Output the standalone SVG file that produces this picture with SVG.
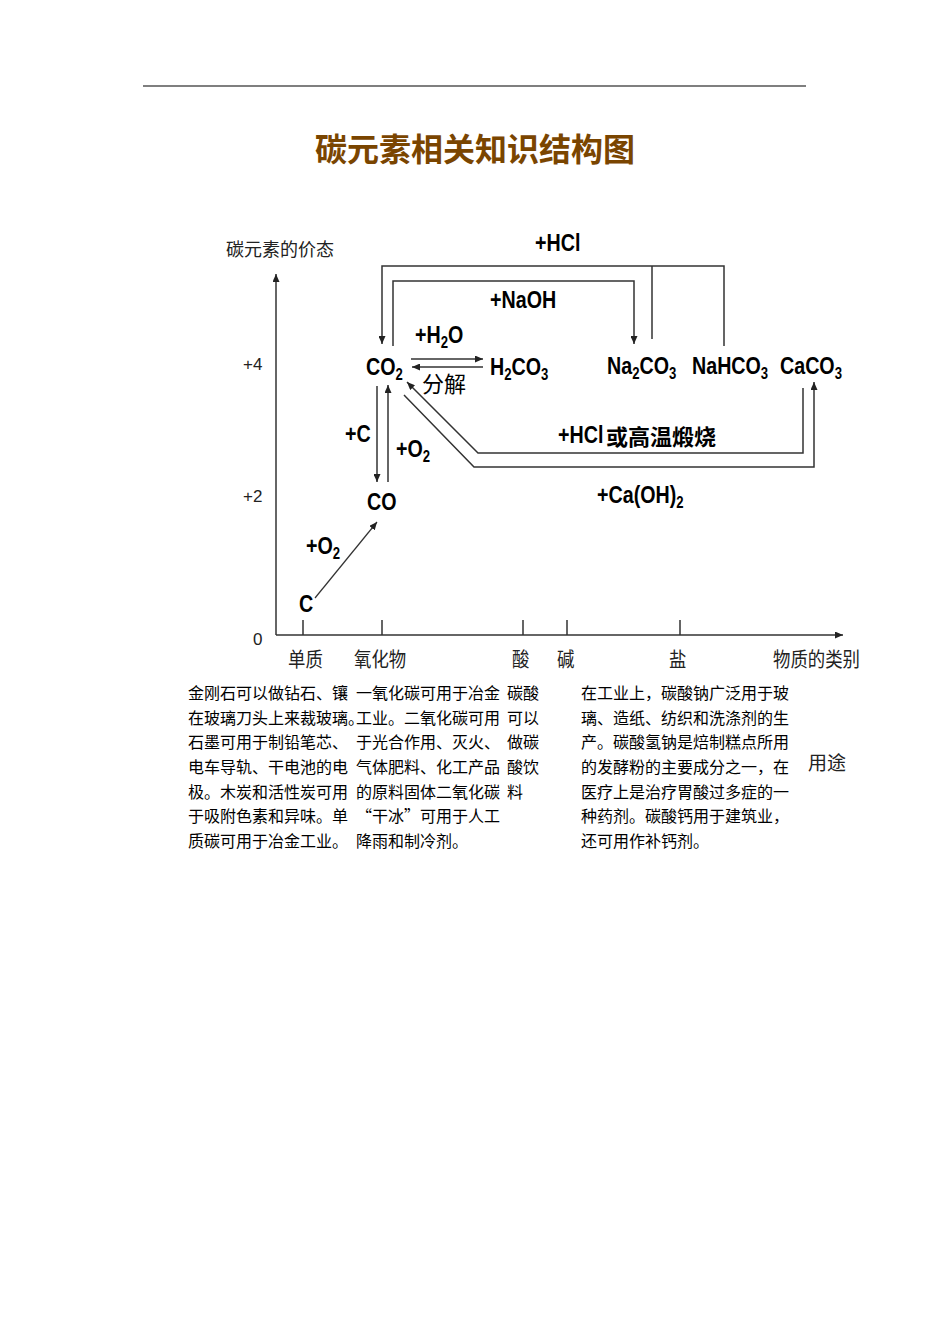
<svg xmlns="http://www.w3.org/2000/svg" width="950" height="1344" viewBox="0 0 950 1344">
<style>
.f{font-family:"Liberation Sans",Arial,sans-serif;font-weight:bold;font-size:24px;fill:#000}
.s{font-size:16px}
.cj{font-family:"Noto Sans CJK SC",sans-serif;fill:#000}
.ax{font-family:"Noto Sans CJK SC",sans-serif;font-size:20px;fill:#222}
.num{font-family:"Liberation Sans",Arial,sans-serif;font-size:17px;fill:#222}
.body{font-family:"Noto Sans CJK SC",sans-serif;font-size:16px;fill:#000}
.ln{fill:none;stroke:#333;stroke-width:1.5}
.thin{fill:none;stroke:#333;stroke-width:1.2}
</style>
<defs>
<marker id="ah" markerUnits="userSpaceOnUse" markerWidth="9" markerHeight="7" refX="8" refY="3.5" orient="auto">
<path d="M0,0 L8,3.5 L0,7 z" fill="#222"/>
</marker>
</defs>
<rect width="950" height="1344" fill="#fff"/>
<line x1="143" y1="86" x2="806" y2="86" stroke="#555" stroke-width="1.6"/>
<text x="475" y="161" text-anchor="middle" font-family="Noto Sans CJK SC,sans-serif" font-size="32" font-weight="bold" fill="#7a4500">碳元素相关知识结构图</text>

<g id="axes">
<line class="ln" x1="276" y1="635" x2="276" y2="274" marker-end="url(#ah)"/>
<line class="ln" x1="276" y1="635" x2="843" y2="635" marker-end="url(#ah)"/>
<path class="ln" d="M303,620V635M382,620V635M523,620V635M567,620V635M680,620V635"/>
<text x="226" y="256" font-family="Noto Sans CJK SC,sans-serif" font-size="18" fill="#222">碳元素的价态</text>
<text class="num" x="243" y="370">+4</text>
<text class="num" x="243" y="502">+2</text>
<text class="num" x="253" y="645">0</text>
<text class="ax" transform="translate(288,667) scale(0.87,1)">单质</text>
<text class="ax" transform="translate(354,667) scale(0.87,1)">氧化物</text>
<text class="ax" transform="translate(512,667) scale(0.87,1)">酸</text>
<text class="ax" transform="translate(557,667) scale(0.87,1)">碱</text>
<text class="ax" transform="translate(669,667) scale(0.87,1)">盐</text>
<text class="ax" transform="translate(773,667) scale(0.87,1)">物质的类别</text>
</g>

<g id="connectors">
<polyline class="ln" points="724,346 724,266 382,266 382,344" marker-end="url(#ah)"/>
<polyline class="ln" points="652,339 652,266"/>
<polyline class="ln" points="393,346 393,281 634,281 634,344" marker-end="url(#ah)"/>
<line class="ln" x1="411" y1="359" x2="483" y2="359" marker-end="url(#ah)"/>
<line class="ln" x1="483" y1="367" x2="412" y2="367" marker-end="url(#ah)"/>
<line class="ln" x1="377" y1="386" x2="377" y2="482" marker-end="url(#ah)"/>
<line class="ln" x1="388" y1="482" x2="388" y2="385" marker-end="url(#ah)"/>
<polyline class="ln" points="803,388 803,453 478,453 407,382" marker-end="url(#ah)"/>
<polyline class="ln" points="404,395 474,467 814,467 814,382" marker-end="url(#ah)"/>
<line class="thin" x1="315" y1="598" x2="377" y2="522" marker-end="url(#ah)"/>
</g>

<g id="labels">
<text class="f" transform="translate(535,251) scale(0.82,1)">+HCl</text>
<text class="f" transform="translate(490,308) scale(0.82,1)">+NaOH</text>
<text class="f" transform="translate(415,343) scale(0.82,1)">+H<tspan class="s" dy="5">2</tspan><tspan dy="-5">O</tspan></text>
<text class="cj" x="422" y="392" font-size="22">分解</text>
<text class="f" transform="translate(345,442) scale(0.82,1)">+C</text>
<text class="f" transform="translate(396,457) scale(0.82,1)">+O<tspan class="s" dy="5">2</tspan></text>
<text class="f" transform="translate(306,554) scale(0.82,1)">+O<tspan class="s" dy="5">2</tspan></text>
<text class="f" transform="translate(558,443) scale(0.82,1)">+HCl</text>
<text class="cj" x="606" y="445" font-size="22" font-weight="bold">或高温煅烧</text>
<text class="f" transform="translate(597,503) scale(0.82,1)">+Ca(OH)<tspan class="s" dy="5">2</tspan></text>
</g>

<g id="node-C"><text class="f" transform="translate(299,612) scale(0.82,1)">C</text></g>
<g id="node-CO"><text class="f" transform="translate(367,510) scale(0.82,1)">CO</text></g>
<g id="node-CO2"><text class="f" transform="translate(366,375) scale(0.82,1)">CO<tspan class="s" dy="5">2</tspan></text></g>
<g id="node-H2CO3"><text class="f" transform="translate(490,375) scale(0.82,1)">H<tspan class="s" dy="5">2</tspan><tspan dy="-5">CO</tspan><tspan class="s" dy="5">3</tspan></text></g>
<g id="node-Na2CO3"><text class="f" transform="translate(607,374) scale(0.82,1)">Na<tspan class="s" dy="5">2</tspan><tspan dy="-5">CO</tspan><tspan class="s" dy="5">3</tspan></text></g>
<g id="node-NaHCO3"><text class="f" transform="translate(692,374) scale(0.82,1)">NaHCO<tspan class="s" dy="5">3</tspan></text></g>
<g id="node-CaCO3"><text class="f" transform="translate(780,374) scale(0.82,1)">CaCO<tspan class="s" dy="5">3</tspan></text></g>

<g id="uses-element" class="body">
<text x="188" y="699">金刚石可以做钻石、镶</text>
<text x="188" y="724">在玻璃刀头上来裁玻璃。</text>
<text x="188" y="748">石墨可用于制铅笔芯、</text>
<text x="188" y="773">电车导轨、干电池的电</text>
<text x="188" y="798">极。木炭和活性炭可用</text>
<text x="188" y="822">于吸附色素和异味。单</text>
<text x="188" y="847">质碳可用于冶金工业。</text>
</g>
<g id="uses-oxide" class="body">
<text x="356" y="699">一氧化碳可用于冶金</text>
<text x="356" y="724">工业。二氧化碳可用</text>
<text x="356" y="748">于光合作用、灭火、</text>
<text x="356" y="773">气体肥料、化工产品</text>
<text x="356" y="798">的原料固体二氧化碳</text>
<text x="356" y="822">“干冰”可用于人工</text>
<text x="356" y="847">降雨和制冷剂。</text>
</g>
<g id="uses-acid" class="body">
<text x="507" y="699">碳酸</text>
<text x="507" y="724">可以</text>
<text x="507" y="748">做碳</text>
<text x="507" y="773">酸饮</text>
<text x="507" y="798">料</text>
</g>
<g id="uses-salt" class="body">
<text x="581" y="699">在工业上，碳酸钠广泛用于玻</text>
<text x="581" y="724">璃、造纸、纺织和洗涤剂的生</text>
<text x="581" y="748">产。碳酸氢钠是焙制糕点所用</text>
<text x="581" y="773">的发酵粉的主要成分之一，在</text>
<text x="581" y="798">医疗上是治疗胃酸过多症的一</text>
<text x="581" y="822">种药剂。碳酸钙用于建筑业，</text>
<text x="581" y="847">还可用作补钙剂。</text>
</g>
<g id="uses-label"><text x="808" y="770" font-family="Noto Sans CJK SC,sans-serif" font-size="19" fill="#222">用途</text></g>
</svg>
